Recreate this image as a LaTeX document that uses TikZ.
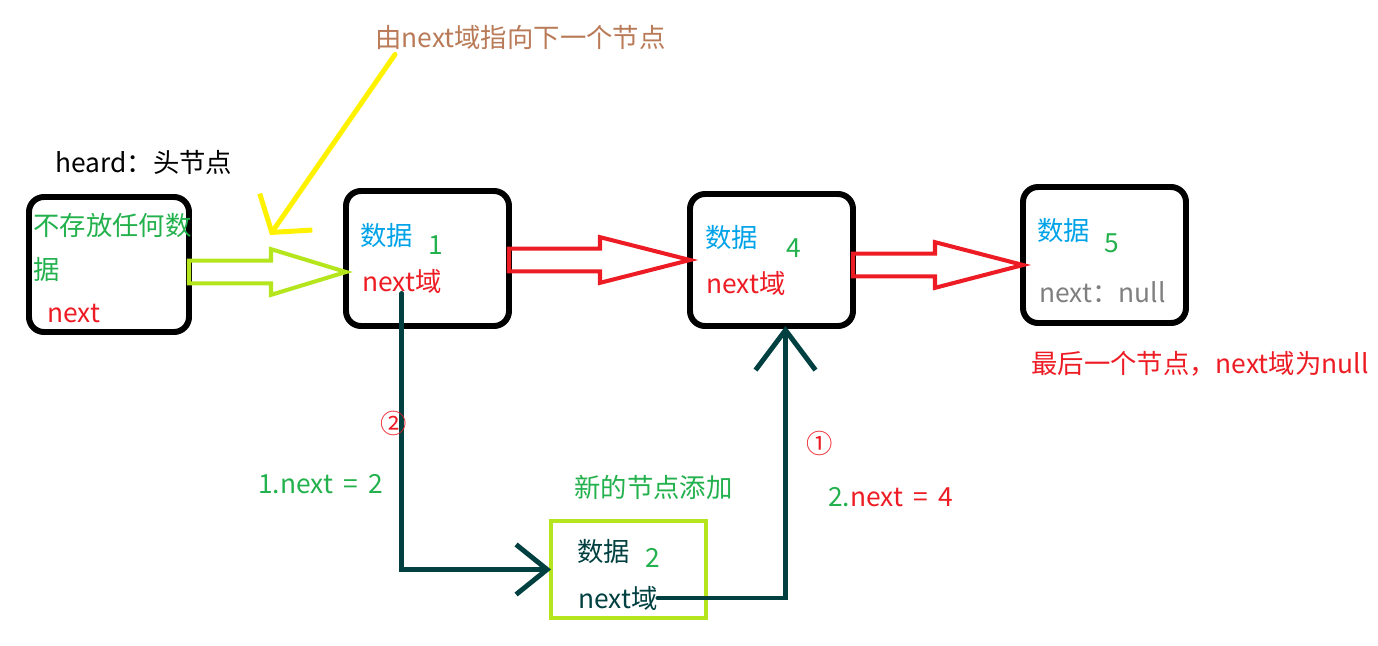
\documentclass[tikz,border=0pt]{standalone}
\usepackage{fontspec}
\setmainfont{Noto Sans CJK SC}
\usetikzlibrary{positioning,calc,arrows.meta}
\definecolor{dblue}{RGB}{0,162,232}
\definecolor{dred}{RGB}{237,28,36}
\definecolor{dgreen}{RGB}{34,177,76}
\definecolor{dlime}{RGB}{181,230,29}
\definecolor{dyellow}{RGB}{255,242,0}
\definecolor{dbrown}{RGB}{185,122,87}
\definecolor{dgray}{RGB}{127,127,127}
\definecolor{dteal}{RGB}{0,64,64}

\tikzset{
  lnode/.style={draw=black, line width=3.4pt, rounded corners=3mm, outer sep=0pt},
  txt/.style={anchor=west, inner sep=0pt, font=\fontsize{15}{18}\selectfont},
  fat/.style={line width=2.3pt, line join=miter},
  link/.style={dteal, line width=2.8pt, line cap=round},
}

% hollow block arrow: colour, from, tip, head length
\newcommand{\fatarrow}[4]{%
  \draw[fat,#1] let \p1=(#2), \p2=(#3) in
    (\x1,\y2+6.5pt) -- (\x2-#4,\y2+6.5pt) -- (\x2-#4,\y2+13pt) -- (\x2,\y2)
    -- (\x2-#4,\y2-13pt) -- (\x2-#4,\y2-6.5pt) -- (\x1,\y2-6.5pt) -- cycle;}

\begin{document}
\begin{tikzpicture}[x=0.2mm, y=-0.2mm]
\useasboundingbox (0,0) rectangle (1378,646);

% Head node
\node[txt] (headlbl) at (55,162) {heard：头节点};
\node[lnode, minimum width=32mm, minimum height=27mm] (head) at (109,264.5) {};
\node[txt, dgreen] (headt1) at (33,225) {不存放任何数};
\node[txt, dgreen] (headt2) at (33,270) {据};
\node[txt, dred] (headnext) at (47,313) {next};

% Node 1
\node[lnode, minimum width=32.6mm, minimum height=27mm] (n1) at (427.5,258.5) {};
\node[txt, dblue] (n1data) at (360,236) {数据};
\node[txt, dgreen] (n1val) at (428,245) {1};
\node[txt, dred] (n1next) at (362,281) {next域};

% Node 4
\node[lnode, minimum width=32.6mm, minimum height=26.4mm] (n4) at (771.5,260) {};
\node[txt, dblue] (n4data) at (705,238) {数据};
\node[txt, dgreen] (n4val) at (786,248) {4};
\node[txt, dred] (n4next) at (706,283) {next域};

% Node 5 (last)
\node[lnode, minimum width=32.6mm, minimum height=27.2mm] (n5) at (1104.5,255) {};
\node[txt, dblue] (n5data) at (1037,231) {数据};
\node[txt, dgreen] (n5val) at (1104,243) {5};
\node[txt, dgray] (n5next) at (1039,292) {next：null};
\node[txt, dred] (lastlbl) at (1031,364) {最后一个节点，next域为null};

% New node 2
\node[draw=dlime, line width=2.8pt, outer sep=0pt, minimum width=31mm, minimum height=19.4mm] (n2) at (628.5,569.5) {};
\node[txt, dteal] (n2data) at (577,552) {数据};
\node[txt, dgreen] (n2val) at (645,558) {2};
\node[txt, dteal] (n2next) at (578,598) {next域};
\node[txt, dgreen] (newlbl) at (574,487) {新的节点添加};

% Block arrows
\fatarrow{dlime}{head.east}{$(n1.west)+(0,13.5)$}{15mm}
\fatarrow{dred}{n1.east}{$(n4.west)+(0,0)$}{18mm}
\fatarrow{dred}{n4.east}{$(n5.west)+(0,10)$}{17.6mm}

% Note on top
\node[txt, dbrown] (toplbl) at (375,37) {由next域指向下一个节点};
\coordinate (ytip) at (270,235);
\draw[dyellow, line width=1mm, line cap=round, -{Straight Barb[length=5mm,width=12.8mm]}] ($(toplbl.south west)+(20,5)$) -- (ytip);

% Insert links
\draw[link, -{Straight Barb[length=6.2mm,width=10mm]}] (n1next.south) |- (n2.west);
\draw[link, -{Straight Barb[length=8mm,width=12mm]}] (n2next.east) -| ($(n4.south)+(14,0)$);

\node[txt, dred] (step2) at (380,423) {②};
\node[txt, dgreen] (eq1) at (258,484) {1.next\hspace{0.4em}=\hspace{0.4em}2};
\node[txt, dred] (step1) at (806,443) {①};
\node[txt] (eq2) at (828,497) {\textcolor{dgreen}{2.}\textcolor{dred}{next\hspace{0.4em}=\hspace{0.4em}4}};
\end{tikzpicture}
\end{document}
